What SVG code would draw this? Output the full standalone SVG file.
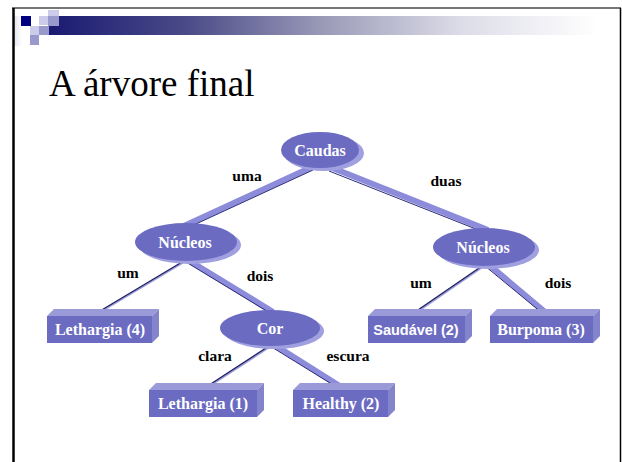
<svg xmlns="http://www.w3.org/2000/svg" width="622" height="462" viewBox="0 0 622 462">
  <defs>
    <linearGradient id="bar" x1="0" y1="0" x2="1" y2="0">
      <stop offset="0" stop-color="#1a1a72"/>
      <stop offset="0.25" stop-color="#4a4a88"/>
      <stop offset="0.5" stop-color="#9a9ab8"/>
      <stop offset="0.75" stop-color="#dcdce8"/>
      <stop offset="1" stop-color="#ffffff"/>
    </linearGradient>
    <linearGradient id="side" x1="0" y1="0" x2="1" y2="0">
      <stop offset="0" stop-color="#e4e4f2"/>
      <stop offset="1" stop-color="#ffffff"/>
    </linearGradient>
    <style>
      .title { font-family: "Liberation Serif", "Times New Roman", serif; font-size: 37px; fill: #000; }
      .edge-label { font-family: "Liberation Serif", "Times New Roman", serif; font-size: 15.5px; font-weight: bold; fill: #000; text-anchor: middle; }
      .node-label { font-family: "Liberation Serif", "Times New Roman", serif; font-size: 16px; font-weight: bold; fill: #fff; text-anchor: middle; }
      .node-label-sans { font-family: "Liberation Sans", Arial, sans-serif; font-size: 14.5px; font-weight: bold; fill: #fff; text-anchor: middle; }
      .face { fill: #6b6bc2; }
      .rim { fill: #a0a0e0; }
      .top { fill: #9a9ad8; }
      .right { fill: #8484cc; }
      .band { stroke: #8c8cda; stroke-width: 6; stroke-linecap: butt; fill: none; }
      .band-edge { stroke: #2c2c78; stroke-width: 1; fill: none; }
      .thin { stroke: #1c1c5c; stroke-width: 1.2; fill: none; }
      .thin-shade { stroke: #9c9cdc; stroke-width: 2; fill: none; }
    </style>
  </defs>

  <rect width="622" height="462" fill="#ffffff"/>

  <!-- slide header -->
  <g id="header">
    <rect x="14" y="16" width="8" height="30" fill="url(#side)"/>
    <rect x="49" y="16" width="548" height="19" fill="url(#bar)"/>
    <rect x="21" y="16" width="10" height="10" fill="#000080"/>
    <rect x="39" y="16" width="10" height="9" fill="#ccccea"/>
    <rect x="48" y="10" width="11" height="6" fill="#ccccea"/>
    <rect x="48" y="16" width="11" height="10" fill="#9999cc"/>
    <rect x="30" y="26" width="9" height="9" fill="#ccccea"/>
    <rect x="39" y="26" width="10" height="9" fill="#9999cc"/>
    <rect x="30" y="35" width="9" height="10" fill="#9999cc"/>
  </g>

  <!-- slide frame -->
  <g id="frame">
    <line x1="12" y1="8" x2="621" y2="8" stroke="#777" stroke-width="2"/>
    <line x1="13.5" y1="8" x2="13.5" y2="462" stroke="#000" stroke-width="2.5"/>
    <line x1="620.5" y1="8" x2="620.5" y2="462" stroke="#000" stroke-width="1.5"/>
  </g>

  <text class="title" x="49" y="96">A árvore final</text>

  <!-- connectors -->
  <g id="connectors">
    <!-- Caudas -> Núcleos (left) -->
    <line class="band" x1="312" y1="167" x2="184" y2="226"/>
    <line class="band-edge" x1="313" y1="170" x2="185" y2="229"/>
    <!-- Caudas -> Núcleos (right) -->
    <line class="band" x1="330" y1="167" x2="488" y2="230" stroke-width="7"/>
    <line class="band-edge" x1="329" y1="171" x2="486" y2="233"/>
    <!-- Núcleos -> Lethargia (4) -->
    <line class="thin-shade" x1="184" y1="262" x2="102" y2="311"/>
    <line class="thin" x1="182" y1="262" x2="100" y2="311"/>
    <!-- Núcleos -> Cor -->
    <line class="band" x1="188" y1="260" x2="273" y2="312"/>
    <line class="band-edge" x1="186" y1="262" x2="270" y2="313"/>
    <!-- Cor -> Lethargia (1) -->
    <line class="thin-shade" x1="271" y1="346" x2="205" y2="389"/>
    <line class="thin" x1="269" y1="346" x2="203" y2="389"/>
    <!-- Cor -> Healthy (2) -->
    <line class="band" x1="273" y1="344" x2="346" y2="390"/>
    <line class="band-edge" x1="270" y1="346" x2="343" y2="391"/>
    <!-- Núcleos -> Saudável (2) -->
    <line class="thin-shade" x1="484" y1="266" x2="417" y2="312"/>
    <line class="thin" x1="482" y1="266" x2="415" y2="312"/>
    <!-- Núcleos -> Burpoma (3) -->
    <line class="band" x1="488" y1="264" x2="545" y2="312"/>
    <line class="band-edge" x1="485" y1="266" x2="542" y2="313"/>
  </g>

  <!-- edge labels -->
  <g id="edge-labels">
    <text class="edge-label" x="247" y="181">uma</text>
    <text class="edge-label" x="446" y="186">duas</text>
    <text class="edge-label" x="128" y="278">um</text>
    <text class="edge-label" x="260" y="281">dois</text>
    <text class="edge-label" x="421" y="288">um</text>
    <text class="edge-label" x="558" y="288">dois</text>
    <text class="edge-label" x="215" y="361">clara</text>
    <text class="edge-label" x="348" y="361">escura</text>
  </g>

  <!-- decision nodes -->
  <g id="caudas">
    <ellipse class="rim" cx="324" cy="153" rx="40" ry="18"/>
    <ellipse class="face" cx="320" cy="150" rx="39" ry="18"/>
    <text class="node-label" x="320" y="156">Caudas</text>
  </g>
  <g id="nucleos-left">
    <ellipse class="rim" cx="190" cy="245" rx="51" ry="19"/>
    <ellipse class="face" cx="186" cy="242" rx="51" ry="19"/>
    <text class="node-label" x="185" y="248">Núcleos</text>
  </g>
  <g id="nucleos-right">
    <ellipse class="rim" cx="488" cy="250" rx="51" ry="19"/>
    <ellipse class="face" cx="484" cy="247" rx="51" ry="19"/>
    <text class="node-label" x="483" y="253">Núcleos</text>
  </g>
  <g id="cor">
    <ellipse class="rim" cx="274" cy="331" rx="50" ry="18"/>
    <ellipse class="face" cx="270" cy="328" rx="50" ry="18"/>
    <text class="node-label" x="270" y="334">Cor</text>
  </g>

  <!-- leaf nodes -->
  <g id="lethargia-4">
    <polygon class="top" points="47,316 54,309 159,309 152,316"/>
    <polygon class="right" points="152,316 159,309 159,336 152,343"/>
    <rect class="face" x="47" y="316" width="105" height="27"/>
    <text class="node-label" x="100" y="335">Lethargia (4)</text>
  </g>
  <g id="saudavel-2">
    <polygon class="top" points="368,316 375,309 472,309 465,316"/>
    <polygon class="right" points="465,316 472,309 472,336 465,343"/>
    <rect class="face" x="368" y="316" width="97" height="27"/>
    <text class="node-label-sans" x="416" y="335">Saudável (2)</text>
  </g>
  <g id="burpoma-3">
    <polygon class="top" points="490,316 497,309 600,309 593,316"/>
    <polygon class="right" points="593,316 600,309 600,336 593,343"/>
    <rect class="face" x="490" y="316" width="103" height="27"/>
    <text class="node-label" x="541" y="335">Burpoma (3)</text>
  </g>
  <g id="lethargia-1">
    <polygon class="top" points="149,390 156,383 264,383 257,390"/>
    <polygon class="right" points="257,390 264,383 264,410 257,417"/>
    <rect class="face" x="149" y="390" width="108" height="27"/>
    <text class="node-label" x="203" y="409">Lethargia (1)</text>
  </g>
  <g id="healthy-2">
    <polygon class="top" points="293,390 300,383 395,383 388,390"/>
    <polygon class="right" points="388,390 395,383 395,410 388,417"/>
    <rect class="face" x="293" y="390" width="95" height="27"/>
    <text class="node-label" x="341" y="409">Healthy (2)</text>
  </g>
</svg>
